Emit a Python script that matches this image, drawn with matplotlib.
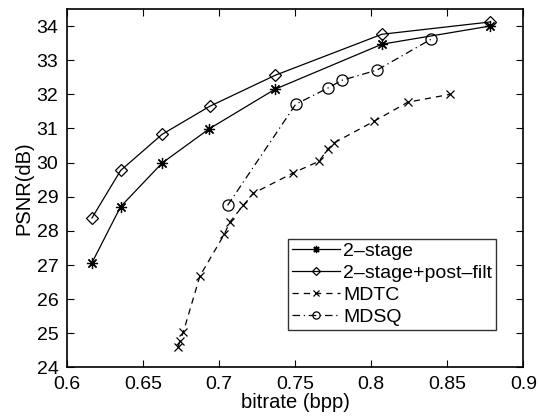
import matplotlib
matplotlib.use("Agg")
import matplotlib.pyplot as plt

plt.rcParams['font.family'] = ['Liberation Sans', 'DejaVu Sans']

# Rate-distortion curves
two_stage_x = [0.6164, 0.6354, 0.6627, 0.6936, 0.7368, 0.8071, 0.8780]
two_stage_y = [27.05, 28.71, 29.99, 30.99, 32.15, 33.47, 34.00]

post_filt_x = [0.6166, 0.6354, 0.6627, 0.6939, 0.7370, 0.8070, 0.8780]
post_filt_y = [28.38, 29.77, 30.83, 31.65, 32.56, 33.76, 34.12]

mdtc_x = [0.6733, 0.6744, 0.6766, 0.6875, 0.7035, 0.7070, 0.7160, 0.7225,
          0.7488, 0.7657, 0.7714, 0.7756, 0.8018, 0.8240, 0.8518]
mdtc_y = [24.61, 24.78, 25.04, 26.68, 27.90, 28.25, 28.75, 29.10,
          29.70, 30.04, 30.39, 30.58, 31.21, 31.77, 32.00]

mdsq_x = [0.7057, 0.7504, 0.7718, 0.7806, 0.8038, 0.8391]
mdsq_y = [28.75, 31.71, 32.19, 32.41, 32.71, 33.61]

labels = ['2–stage', '2–stage+post–filt', 'MDTC', 'MDSQ']

x_ticks = [0.6, 0.65, 0.7, 0.75, 0.8, 0.85, 0.9]
x_ticklabels = ['0.6', '0.65', '0.7', '0.75', '0.8', '0.85', '0.9']
y_ticks = list(range(24, 35))

fig = plt.figure(figsize=(5.38, 4.19), dpi=100)
ax = fig.add_axes([0.124, 0.123, 0.849, 0.8555])

lw = 0.9
asterisk = (8, 2, 0)
ax.plot(two_stage_x, two_stage_y, '-', color='k', lw=lw, marker=asterisk,
        markersize=8, markeredgewidth=0.9, label=labels[0])
ax.plot(post_filt_x, post_filt_y, '-', color='k', lw=lw, marker='D',
        markersize=6.5, markerfacecolor='none', markeredgewidth=0.9, label=labels[1])
ax.plot(mdtc_x, mdtc_y, '--', color='k', lw=lw, marker='x', dashes=(5, 4),
        markersize=6, markeredgewidth=0.9, label=labels[2])
ax.plot(mdsq_x, mdsq_y, '-.', color='k', lw=lw, marker='o', dashes=(6, 3, 1, 3),
        markersize=8, markerfacecolor='none', markeredgewidth=0.9, label=labels[3])

ax.set_xlim(0.6, 0.9)
ax.set_ylim(24, 34.5)
ax.set_xticks(x_ticks)
ax.set_xticklabels(x_ticklabels)
ax.set_yticks(y_ticks)
ax.tick_params(direction='in', top=True, right=True, length=5, width=0.8,
               labelsize=14, pad=6)
for s in ax.spines.values():
    s.set_linewidth(1.2)

ax.set_xlabel('bitrate (bpp)', fontsize=14.5, labelpad=0)
ax.set_ylabel('PSNR(dB)', fontsize=14.5, labelpad=2)

leg = ax.legend(loc='lower right', bbox_to_anchor=(0.94, 0.105), borderaxespad=0,
                fontsize=14, frameon=True, fancybox=False, edgecolor='k',
                handlelength=2.5, handletextpad=0.15, labelspacing=0.22,
                borderpad=0.2, markerscale=0.65)
leg.get_frame().set_linewidth(1.0)

fig.savefig('out.png', dpi=100)
